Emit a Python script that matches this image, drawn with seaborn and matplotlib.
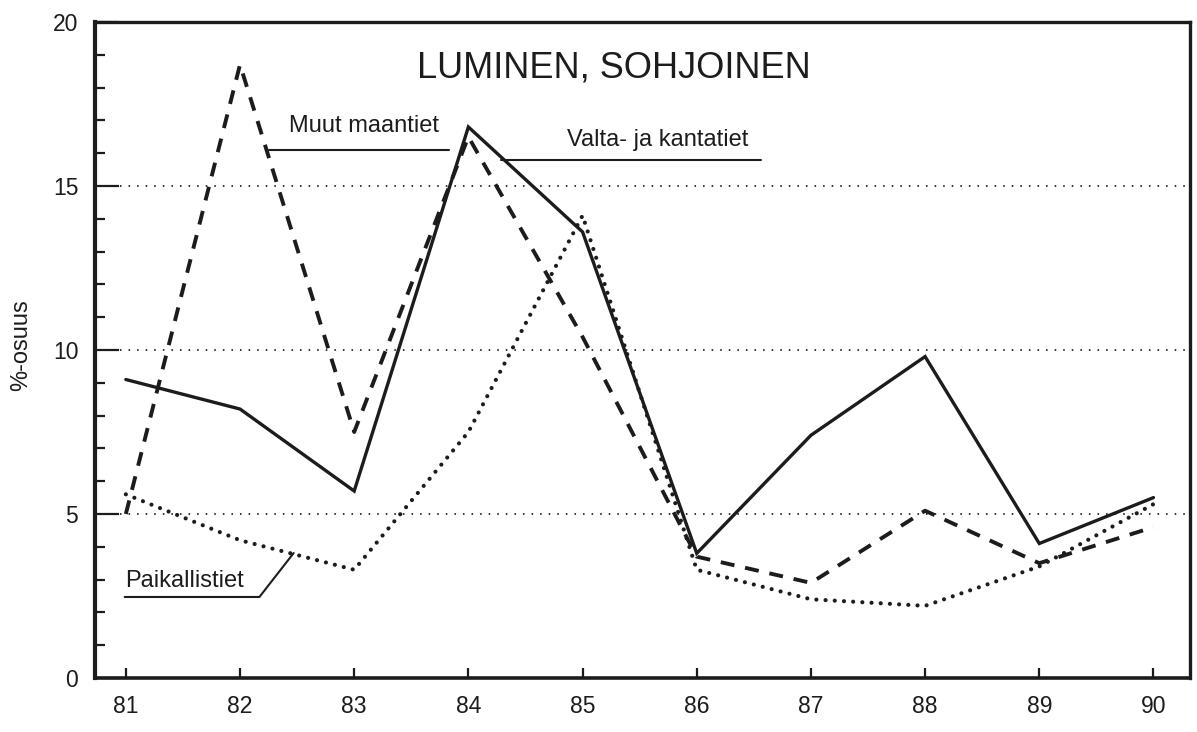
import matplotlib
matplotlib.use("Agg")
import matplotlib.pyplot as plt
from matplotlib.ticker import MultipleLocator
import seaborn as sns
import pandas as pd

years = [81, 82, 83, 84, 85, 86, 87, 88, 89, 90]
valta_ja_kantatiet = [9.1, 8.2, 5.7, 16.8, 13.6, 3.8, 7.4, 9.8, 4.1, 5.5]
muut_maantiet = [5.0, 18.7, 7.5, 16.5, 10.4, 3.7, 2.9, 5.1, 3.5, 4.6]
paikallistiet = [5.6, 4.2, 3.3, 7.5, 14.1, 3.3, 2.4, 2.2, 3.4, 5.3]
y_ticks = [0, 5, 10, 15, 20]
title = "LUMINEN, SOHJOINEN"
y_label = "%-osuus"

sns.set_theme(style="white")
plt.rcParams["font.family"] = ["Liberation Sans", "DejaVu Sans"]

ink = "#1c1c1c"
fig = plt.figure(figsize=(11.97, 7.32), dpi=100)
ax = fig.add_axes([95 / 1197, 1 - 678 / 732, 1095 / 1197, 656 / 732])

df = pd.DataFrame({"vuosi": years, "valta": valta_ja_kantatiet,
                   "muut": muut_maantiet, "paik": paikallistiet})

sns.lineplot(data=df, x="vuosi", y="valta", ax=ax, color=ink, lw=2.4,
             solid_joinstyle="miter")
sns.lineplot(data=df, x="vuosi", y="muut", ax=ax, color=ink, lw=2.8,
             dashes=False, linestyle=(0, (3.6, 2.8)), dash_capstyle="butt")
sns.lineplot(data=df, x="vuosi", y="paik", ax=ax, color=ink, lw=3.0,
             linestyle=(0, (0.01, 2.2)), dash_capstyle="round")

ax.set_xlim(80.73, 90.32)
ax.set_ylim(0, 20)

# grid lines at 5, 10, 15
for g in [5, 10, 15]:
    ax.axhline(g, color=ink, lw=1.4, linestyle=(0, (0.01, 4.4)),
               dash_capstyle="round", zorder=0)

ax.set_xticks(years)
ax.set_xticklabels([str(y) for y in years])
ax.set_yticks(y_ticks)
ax.set_yticklabels([str(v) for v in y_ticks])
ax.yaxis.set_minor_locator(MultipleLocator(1))

ax.tick_params(axis="x", which="major", direction="in", length=7, width=1.6,
               colors=ink, labelsize=16.5, pad=12, bottom=True)
ax.tick_params(axis="y", which="major", direction="in", length=17, width=1.6,
               colors=ink, labelsize=16.5, pad=12, left=True)
ax.tick_params(axis="y", which="minor", direction="in", length=7, width=1.6,
               colors=ink, left=True)

for side, w in [("left", 3.0), ("bottom", 2.6), ("top", 2.4), ("right", 2.4)]:
    ax.spines[side].set_visible(True)
    ax.spines[side].set_color(ink)
    ax.spines[side].set_linewidth(w)

ax.set_xlabel("")
ax.set_ylabel(y_label, fontsize=17, color=ink)
ax.yaxis.set_label_coords(-0.057, 0.508)

ax.text(0.474, 0.916, title, transform=ax.transAxes, ha="center",
        va="baseline", fontsize=26, color=ink)

# series labels with leader lines
ax.text(82.43, 16.65, "Muut maantiet", fontsize=17, color=ink, va="baseline")
ax.plot([82.25, 83.83], [16.1, 16.1], color=ink, lw=1.5)
ax.text(84.86, 16.22, "Valta- ja kantatiet", fontsize=17, color=ink, va="baseline")
ax.plot([84.29, 86.56], [15.8, 15.8], color=ink, lw=1.5)
ax.text(80.99, 2.77, "Paikallistiet", fontsize=17, color=ink, va="baseline")
ax.plot([80.99, 82.17, 82.47], [2.47, 2.47, 3.81], color=ink, lw=1.5)

fig.savefig("out.png", dpi=100, facecolor="white")
